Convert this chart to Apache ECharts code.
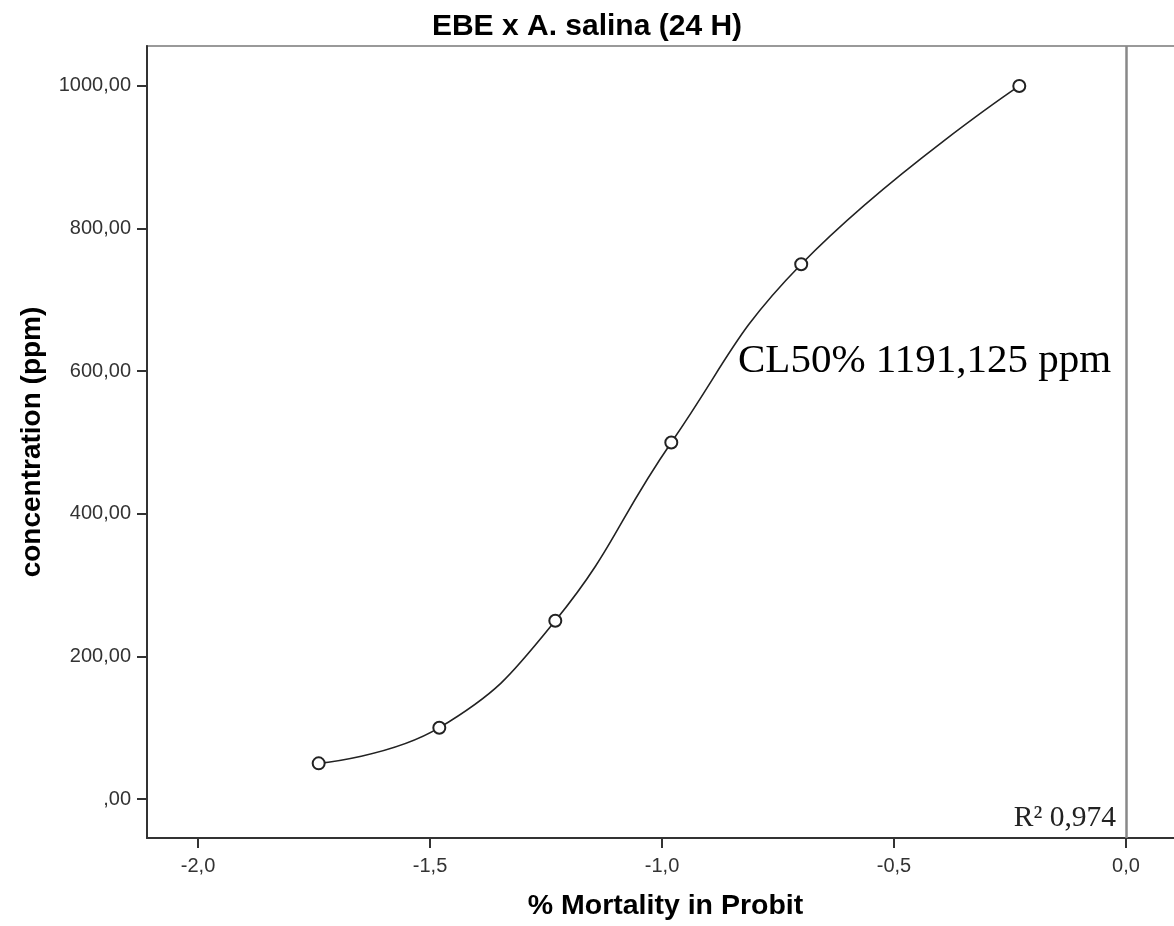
<!DOCTYPE html>
<html>
<head>
<meta charset="utf-8">
<script src="https://cdn.jsdelivr.net/npm/echarts@6/dist/echarts.min.js"></script>
<style>
  html, body { margin: 0; padding: 0; background: #ffffff; }
  #chart { width: 1174px; height: 926px; }
</style>
</head>
<body>
<div id="chart"></div>
<script>
// Probit-transformed mortality (x) against tested concentration (y)
const probit = [-1.74, -1.48, -1.23, -0.98, -0.70, -0.23];
const concentration = [50, 100, 250, 500, 750, 1000];

// Axis tick values
const xTicks = [-2.0, -1.5, -1.0, -0.5, 0.0];
const yTicks = [0, 200, 400, 600, 800, 1000];

// Text
const chartTitle = 'EBE x A. salina (24 H)';
const xName = '% Mortality in Probit';
const yName = 'concentration (ppm)';
const lc50Label = 'CL50% 1191,125 ppm';
const r2Label = 'R\u00B2 0,974';

const points = probit.map((p, i) => [p, concentration[i]]);

const sans = 'Arial, "Liberation Sans", Helvetica, sans-serif';
const serif = '"Times New Roman", "Liberation Serif", serif';

const fmtX = v => v.toFixed(1).replace('.', ',');
const fmtY = v => (v === 0 ? ',00' : v.toFixed(2).replace('.', ','));

const chart = echarts.init(document.getElementById('chart'), null, { renderer: 'canvas' });

chart.setOption({
  backgroundColor: '#ffffff',
  animation: false,
  title: {
    text: chartTitle,
    left: 'center',
    top: 7,
    textStyle: { fontFamily: sans, fontWeight: 'bold', fontSize: 30, color: '#000' }
  },
  grid: {
    left: 147,
    top: 46,
    bottom: 88,
    right: -10,
    containLabel: false,
    outerBoundsMode: 'none',
    show: true,
    borderColor: '#999',
    borderWidth: 2,
    backgroundColor: 'transparent'
  },
  xAxis: {
    type: 'value',
    min: -2.11,
    max: 0.125,
    name: xName,
    nameLocation: 'middle',
    nameGap: 54,
    nameTextStyle: { fontFamily: sans, fontWeight: 'bold', fontSize: 28.5, color: '#000' },
    splitLine: { show: false },
    axisLine: { show: true, onZero: false, lineStyle: { color: '#333', width: 2 } },
    axisTick: { show: true, length: 10, lineStyle: { color: '#333', width: 2 }, customValues: xTicks },
    axisLabel: {
      customValues: xTicks,
      margin: 18,
      fontFamily: sans,
      fontSize: 20,
      color: '#333',
      formatter: fmtX
    }
  },
  yAxis: {
    type: 'value',
    min: -54.7,
    max: 1056,
    name: yName,
    nameLocation: 'middle',
    nameGap: 101,
    nameTextStyle: { fontFamily: sans, fontWeight: 'bold', fontSize: 28, color: '#000' },
    splitLine: { show: false },
    axisLine: { show: true, onZero: false, lineStyle: { color: '#333', width: 2 } },
    axisTick: { show: true, length: 10, lineStyle: { color: '#333', width: 2 }, customValues: yTicks },
    axisLabel: {
      customValues: yTicks,
      margin: 16,
      fontFamily: sans,
      fontSize: 20,
      color: '#333',
      formatter: fmtY
    }
  },
  series: [{
    type: 'line',
    data: points,
    smooth: 0.45,
    symbol: 'emptyCircle',
    symbolSize: 12,
    lineStyle: { color: '#222', width: 1.6 },
    itemStyle: { color: '#222', borderColor: '#222', borderWidth: 1.6 },
    markLine: {
      silent: true,
      symbol: 'none',
      label: { show: false },
      lineStyle: { color: '#888', width: 2.5, type: 'solid' },
      data: [{ xAxis: 0 }]
    },
    z: 3
  }],
  graphic: [
    {
      type: 'text',
      left: 738,
      top: 341,
      style: { text: lc50Label, font: '41px ' + serif, fill: '#000' },
      z: 10
    },
    {
      type: 'text',
      right: 58,
      top: 803,
      style: { text: r2Label, font: '29.5px ' + serif, fill: '#222' },
      z: 10
    }
  ]
});
</script>
</body>
</html>
